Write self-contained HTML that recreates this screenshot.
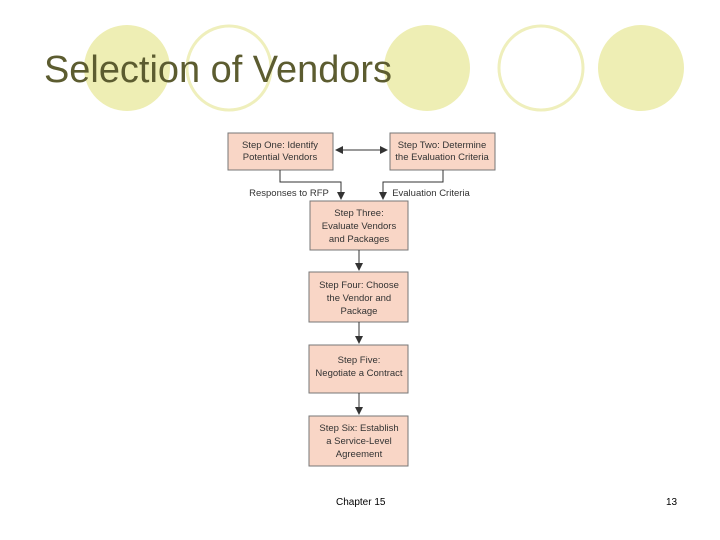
<!DOCTYPE html>
<html><head><style>
body{margin:0;background:#fff;}
svg{display:block}
</style></head><body>
<svg width="720" height="540" viewBox="0 0 720 540" xmlns="http://www.w3.org/2000/svg" font-family="Liberation Sans, Arial, sans-serif">
<defs><marker id="a" markerWidth="8" markerHeight="8" refX="7" refY="4" orient="auto-start-reverse" markerUnits="userSpaceOnUse"><path d="M0,0 L8,4 L0,8 z" fill="#333"/></marker></defs>
<circle cx="127" cy="68" r="43" fill="#eeeeb4"/>
<circle cx="229" cy="68" r="42" fill="none" stroke="#efefbc" stroke-width="3"/>
<circle cx="427" cy="68" r="43" fill="#eeeeb4"/>
<circle cx="541" cy="68" r="42" fill="none" stroke="#efefbc" stroke-width="3"/>
<circle cx="641" cy="68" r="43" fill="#eeeeb4"/>
<text x="44" y="82" font-size="38" fill="#5c5c30" textLength="348" lengthAdjust="spacingAndGlyphs">Selection of Vendors</text>
<g fill="#f9d6c6" stroke="#777" stroke-width="1">
<rect x="228" y="133" width="105" height="37"/>
<rect x="390" y="133" width="105" height="37"/>
<rect x="310" y="201" width="98" height="49"/>
<rect x="309" y="272" width="99" height="50"/>
<rect x="309" y="345" width="99" height="48"/>
<rect x="309" y="416" width="99" height="50"/>
</g>
<g stroke="#333" stroke-width="1" fill="none">
<line x1="336" y1="150" x2="387" y2="150" marker-end="url(#a)" marker-start="url(#a)"/>
<polyline points="280,170 280,182 341,182 341,199" marker-end="url(#a)"/>
<polyline points="443,170 443,182 383,182 383,199" marker-end="url(#a)"/>
<line x1="359" y1="250" x2="359" y2="270" marker-end="url(#a)"/>
<line x1="359" y1="322" x2="359" y2="343" marker-end="url(#a)"/>
<line x1="359" y1="393" x2="359" y2="414" marker-end="url(#a)"/>
</g>
<g font-size="9.5" fill="#333" text-anchor="middle">
<text x="280" y="148">Step One: Identify</text><text x="280" y="160">Potential Vendors</text>
<text x="442" y="148">Step Two: Determine</text><text x="442" y="160">the Evaluation Criteria</text>
<text x="359" y="216">Step Three:</text><text x="359" y="229">Evaluate Vendors</text><text x="359" y="242">and Packages</text>
<text x="359" y="288">Step Four: Choose</text><text x="359" y="301">the Vendor and</text><text x="359" y="314">Package</text>
<text x="359" y="363">Step Five:</text><text x="359" y="376">Negotiate a Contract</text>
<text x="359" y="431">Step Six: Establish</text><text x="359" y="444">a Service-Level</text><text x="359" y="457">Agreement</text>
<text x="289" y="196">Responses to RFP</text>
<text x="431" y="196">Evaluation Criteria</text>
</g>
<text x="336" y="505" font-size="10" fill="#000">Chapter 15</text>
<text x="666" y="505" font-size="10" fill="#000">13</text>
</svg>
</body></html>
